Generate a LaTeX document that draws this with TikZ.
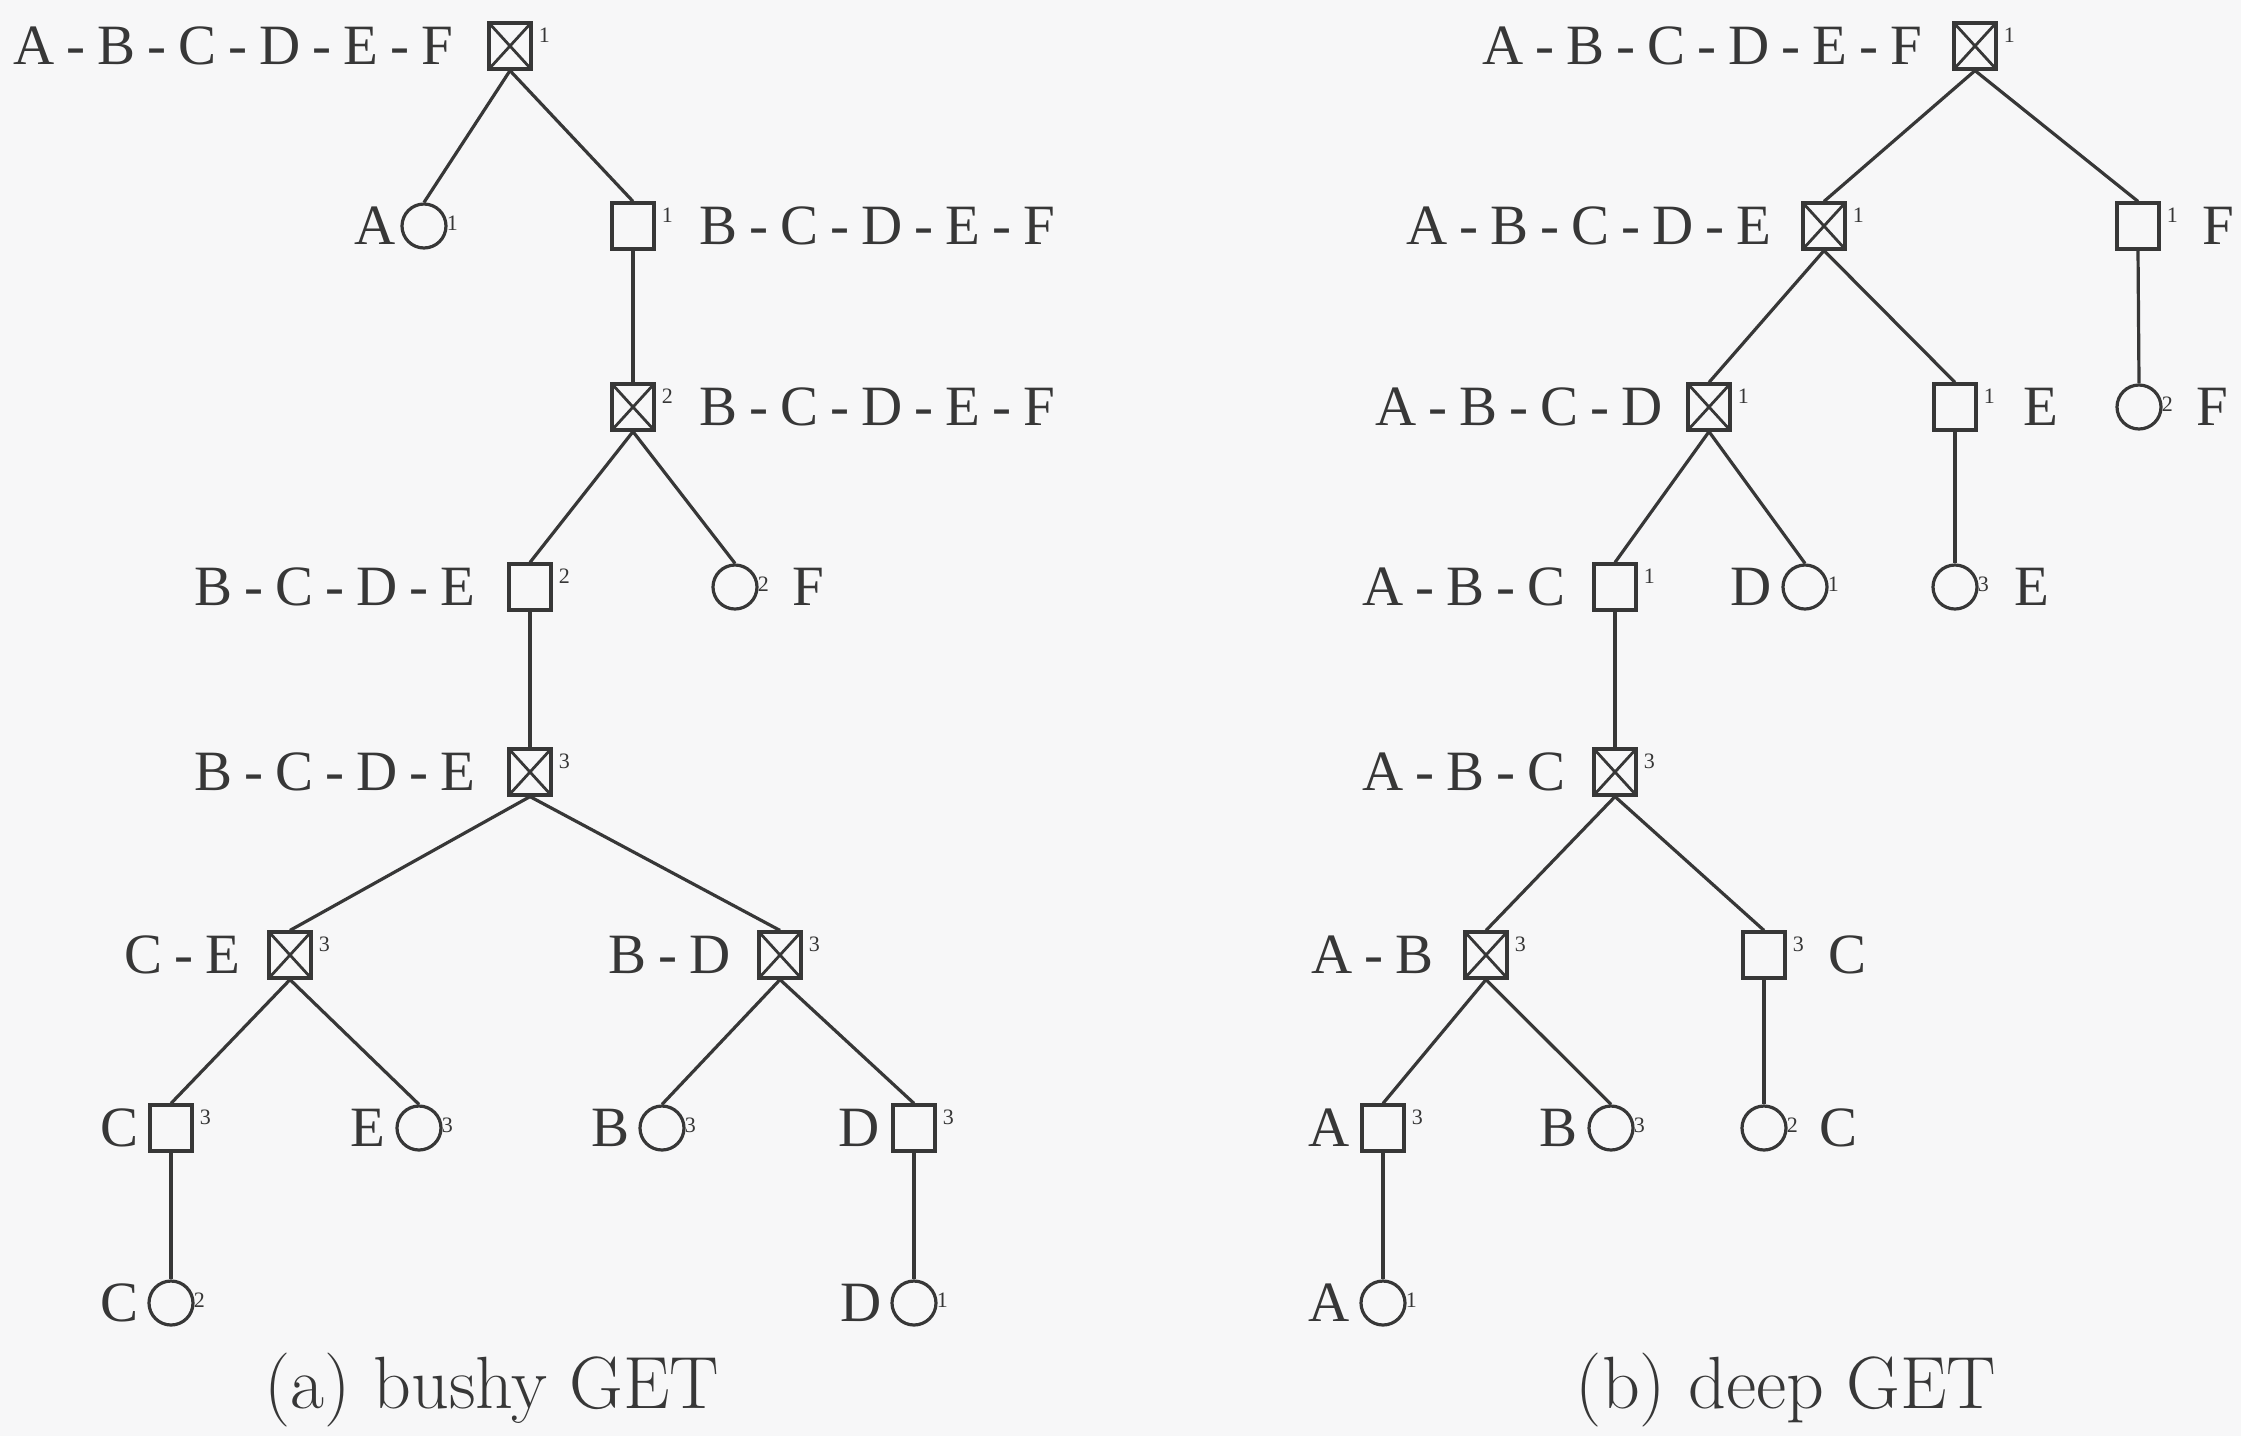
\documentclass[tikz,border=0pt]{standalone}
\usepackage{fontspec}
\usetikzlibrary{shapes.geometric}
\newfontfamily\lblfont{Liberation Serif}
\definecolor{ink}{RGB}{55,55,55}
\definecolor{paper}{RGB}{247,247,248}
\newcommand\hy{\hspace{0.21em}-\hspace{0.21em}}
\tikzset{
  xbox/.style={draw=ink, line width=3.2pt, rectangle, minimum width=42pt, minimum height=46pt, inner sep=0pt,
    path picture={\draw[ink, line width=2.8pt] (path picture bounding box.north west) -- (path picture bounding box.south east)
      (path picture bounding box.north east) -- (path picture bounding box.south west);}},
  pbox/.style={draw=ink, line width=3.2pt, rectangle, minimum width=42pt, minimum height=46pt, inner sep=0pt},
  leaf/.style={draw=ink, line width=3.2pt, circle, minimum size=44pt, inner sep=0pt},
  supx/.style={text=ink, inner sep=0pt, anchor=north west, xshift=6pt, yshift=-6pt, font=\lblfont\fontsize{22}{22}\selectfont},
  lbl/.style={text=ink, inner sep=0pt, font=\lblfont\fontsize{57}{60}\selectfont},
  captext/.style={text=ink, inner sep=0pt, anchor=base, font=\fontsize{74}{80}\selectfont},
  edge/.style={draw=ink, line width=3.2pt}
}
% name, style, x, y, sup, left label, gap
\newcommand\LN[7]{%
  \node[#2] (#1) at (#3,#4) {};
  \node[supx] (#1-s) at (#1.north east) {#5};
  \node[lbl, anchor=east, xshift=-#7pt] (#1-l) at (#1.west) {#6};
}
\newcommand\RN[7]{%
  \node[#2] (#1) at (#3,#4) {};
  \node[supx] (#1-s) at (#1.north east) {#5};
  \node[lbl, anchor=west, xshift=#7pt] (#1-l) at (#1.east) {#6};
}
\begin{document}
\begin{tikzpicture}[x=1pt, y=-1pt]
\fill[paper] (0,0) rectangle (2241,1436);
\useasboundingbox (0,0) rectangle (2241,1436);
% ---------- (a) bushy GET ----------
\LN{r1}{xbox}{510}{46}{1}{A\hy B\hy C\hy D\hy E\hy F}{34}
\LN{a1}{leaf}{424}{226}{1}{A}{5}
\RN{b1}{pbox}{633}{226}{1}{B\hy C\hy D\hy E\hy F}{44}
\RN{b2}{xbox}{633}{407}{2}{B\hy C\hy D\hy E\hy F}{44}
\LN{c1}{pbox}{530}{587}{2}{B\hy C\hy D\hy E}{32}
\RN{f2}{leaf}{735}{587}{2}{F}{34}
\LN{c2}{xbox}{530}{772}{3}{B\hy C\hy D\hy E}{32}
\LN{d1}{xbox}{290}{955}{3}{C\hy E}{27}
\LN{d2}{xbox}{780}{955}{3}{B\hy D}{27}
\LN{e1}{pbox}{171}{1128}{3}{C}{10}
\LN{e2}{leaf}{419}{1128}{3}{E}{10}
\LN{e3}{leaf}{662}{1128}{3}{B}{9}
\LN{e4}{pbox}{914}{1128}{3}{D}{12}
\LN{g1}{leaf}{171}{1303}{2}{C}{9}
\LN{g2}{leaf}{914}{1303}{1}{D}{9}
\foreach \p/\c in {r1/a1, r1/b1, b1/b2, b2/c1, b2/f2, c1/c2, c2/d1, c2/d2, d1/e1, d1/e2, d2/e3, d2/e4, e1/g1, e4/g2}
  \draw[edge] (\p.south) -- (\c.north);
\node[captext] (capa) at (492,1408) {(a) bushy GET};
% ---------- (b) deep GET ----------
\LN{R1}{xbox}{1975}{46}{1}{A\hy B\hy C\hy D\hy E\hy F}{30}
\LN{R2}{xbox}{1824}{226}{1}{A\hy B\hy C\hy D\hy E}{30}
\RN{Rf}{pbox}{2138}{226}{1}{F}{42}
\LN{R3}{xbox}{1709}{407}{1}{A\hy B\hy C\hy D}{24}
\RN{Re}{pbox}{1955}{407}{1}{E}{46}
\RN{Rf2}{leaf}{2139}{407}{2}{F}{34}
\LN{R4}{pbox}{1615}{587}{1}{A\hy B\hy C}{27}
\LN{Rd}{leaf}{1805}{587}{1}{D}{10}
\RN{Re2}{leaf}{1955}{587}{3}{E}{36}
\LN{R5}{xbox}{1615}{772}{3}{A\hy B\hy C}{27}
\LN{R6}{xbox}{1486}{955}{3}{A\hy B}{30}
\RN{Rc}{pbox}{1764}{955}{3}{C}{42}
\LN{R7}{pbox}{1383}{1128}{3}{A}{11}
\LN{Rb}{leaf}{1611}{1128}{3}{B}{10}
\RN{Rc2}{leaf}{1764}{1128}{2}{C}{32}
\LN{R8}{leaf}{1383}{1303}{1}{A}{10}
\foreach \p/\c in {R1/R2, R1/Rf, Rf/Rf2, R2/R3, R2/Re, Re/Re2, R3/R4, R3/Rd, R4/R5, R5/R6, R5/Rc, Rc/Rc2, R6/R7, R6/Rb, R7/R8}
  \draw[edge] (\p.south) -- (\c.north);
\node[captext] (capb) at (1786,1408) {(b) deep GET};
\end{tikzpicture}
\end{document}
